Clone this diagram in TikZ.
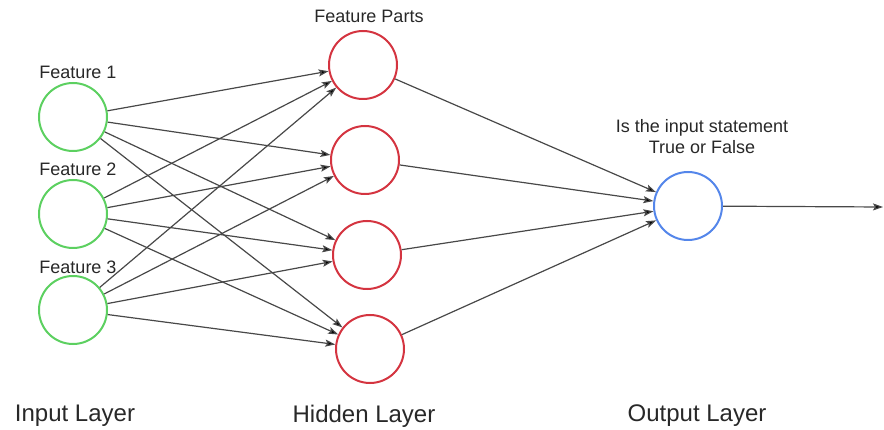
\documentclass[tikz,border=0pt]{standalone}
\usepackage{fontspec}
\setmainfont{Liberation Sans}
\usetikzlibrary{arrows.meta}
\definecolor{ingreen}{RGB}{92,208,96}
\definecolor{hidred}{RGB}{212,52,64}
\definecolor{outblue}{RGB}{84,134,234}
\definecolor{edgegrey}{RGB}{72,72,72}
\definecolor{txtgrey}{RGB}{40,40,40}

\begin{document}
\begin{tikzpicture}[x=1pt,y=-1pt,>={Stealth[length=10pt,width=7pt,inset=2pt]},
	main node/.style={circle,draw,line width=2pt,minimum size=68pt,inner sep=0pt},
	in node/.style={main node,draw=ingreen},
	hidden node/.style={main node,draw=hidred},
	out node/.style={main node,draw=outblue},
	small label/.style={text=txtgrey,font=\fontsize{18}{21}\selectfont,align=center},
	layer label/.style={text=txtgrey,font=\fontsize{24}{28}\selectfont}]

			\useasboundingbox (0,0) rectangle (884,430);

			\node[in node] (1) at (73,117) {};
			\node[in node] (2) at (73,214) {};
			\node[in node] (3) at (73,310) {};

			\node[hidden node] (4) at (363,65) {};
			\node[hidden node] (5) at (365,160) {};
			\node[hidden node] (6) at (367,255) {};
			\node[hidden node] (7) at (370,349) {};

			\node[out node] (8) at (688,206) {};
			\coordinate (9) at (883,207);

			\node[small label] (f1) at (78,72) {Feature 1};
			\node[small label] (f2) at (78,169) {Feature 2};
			\node[small label] (f3) at (78,267) {Feature 3};
			\node[small label] (fp) at (369,16) {Feature Parts};
			\node[small label] (q) at (702,137) {Is the input statement\\True or False};

			\node[layer label] (l1) at (75,416) {Input Layer};
			\node[layer label] (l2) at (364,416) {Hidden Layer};
			\node[layer label] (l3) at (697,416) {Output Layer};

			\path[->,draw=edgegrey,line width=1.2pt]
			(1) edge (4)
				edge (5)
				edge (6)
				edge (7)
			(2) edge (4)
				edge (5)
				edge (6)
				edge (7)
			(3) edge (4)
				edge (5)
				edge (6)
				edge (7)

			(4) edge (8)
			(5) edge (8)
			(6) edge (8)
			(7) edge (8)
			(8) edge (9);
		\end{tikzpicture}
\end{document}
